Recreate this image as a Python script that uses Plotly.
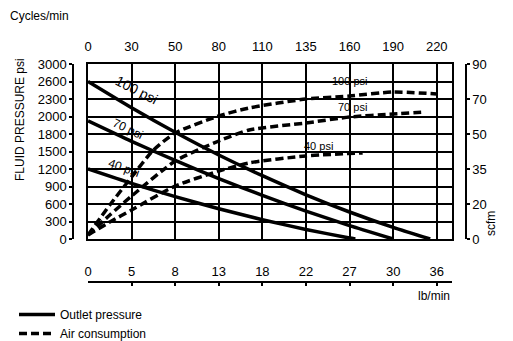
import numpy as np
import plotly.graph_objects as go

# ---- axis tick labels (evenly spaced on the chart) ----
lbmin_ticks = [0, 5, 8, 13, 18, 22, 27, 30, 36]
cycles_ticks = [0, 30, 50, 80, 110, 135, 160, 190, 220]
psi_ticks = [0, 300, 600, 900, 1200, 1500, 1800, 2000, 2300, 2600, 3000]
scfm_ticks = [0, 20, 35, 50, 70, 90]

# ---- Outlet pressure (psi) vs fluid flow (lb/min) ----
outlet_100_lbmin = [0, 5, 8, 13, 18, 22, 27, 30, 35.1]
outlet_100_psi = [2600, 2150, 1820, 1440, 1085, 758, 463, 199, 0]
outlet_70_lbmin = [0, 5, 8, 13, 18, 22, 27, 30]
outlet_70_psi = [1950, 1674, 1346, 1037, 748, 478, 229, 0]
outlet_40_lbmin = [0, 5, 8, 13, 18, 22, 27, 27.4]
outlet_40_psi = [1200, 953, 726, 519, 331, 164, 16, 0]

# ---- Air consumption (scfm) vs cycles/min ----
air_100_cpm = [0, 15, 30, 40, 50, 80, 101, 135, 160, 190, 220]
air_100_scfm = [2.3, 19.4, 31.6, 43.1, 50.6, 60.3, 64.9, 70, 71.7, 74, 72.9]
air_70_cpm = [0, 15, 30, 50, 80, 101, 135, 160, 190, 212]
air_70_scfm = [2.3, 13.7, 23.4, 38.4, 47, 52.3, 56.3, 59.7, 61.4, 62.6]
air_40_cpm = [0, 15, 30, 50, 80, 101, 135, 169]
air_40_scfm = [2.3, 9.7, 16.6, 27.7, 34.1, 37.6, 40.6, 41.9]

# the chart uses evenly spaced (non-linear) scales: map values to grid positions
def on_scale(vals, ticks, positions=None):
    if positions is None:
        positions = np.arange(len(ticks))
    return np.interp(vals, ticks, positions)

scfm_pos = [0, 2, 4, 6, 8, 10]

# page body has an 8px margin: figure sits at (8, 8) in the window
OFF = 8
W, H = 513 - OFF, 341 - OFF
ML, MR, MT, MB = 2, 2, 2, 2
PW, PH = W - ML - MR, H - MT - MB
def fx(p):  # window pixel x -> paper
    return (p - OFF - ML) / PW
def fy(p):  # window pixel y -> paper
    return (H - MB - (p - OFF)) / PH

FONT = "Liberation Sans, Arial, Helvetica, sans-serif"
LW = 3.5
DASH = "8px,4px"

fig = go.Figure()
for xs, ys in [(outlet_100_lbmin, outlet_100_psi), (outlet_70_lbmin, outlet_70_psi),
               (outlet_40_lbmin, outlet_40_psi)]:
    fig.add_trace(go.Scatter(x=on_scale(xs, lbmin_ticks), y=on_scale(ys, psi_ticks),
                             mode="lines", line=dict(color="black", width=LW, shape="spline", smoothing=0.6),
                             showlegend=False, hoverinfo="skip"))
for xs, ys in [(air_100_cpm, air_100_scfm), (air_70_cpm, air_70_scfm), (air_40_cpm, air_40_scfm)]:
    fig.add_trace(go.Scatter(x=on_scale(xs, cycles_ticks), y=on_scale(ys, scfm_ticks, scfm_pos),
                             mode="lines", line=dict(color="black", width=LW, dash=DASH, shape="spline", smoothing=0.6),
                             showlegend=False, hoverinfo="skip"))
# legend entries
fig.add_trace(go.Scatter(x=[None], y=[None], mode="lines", name="Outlet pressure",
                         line=dict(color="black", width=LW)))
fig.add_trace(go.Scatter(x=[None], y=[None], mode="lines", name="Air consumption",
                         line=dict(color="black", width=LW, dash=DASH)))

xdom = [fx(88), fx(452)]
ydom = [fy(239), fy(64)]
XR = [0, 8.35]
YR = [0, 10]
grid = dict(showgrid=True, gridcolor="black", gridwidth=1.5, showline=True, mirror=True,
            linecolor="black", linewidth=1.5, zeroline=False, showticklabels=False, ticks="",
            dtick=1, tick0=0, automargin=False)
TF = dict(size=13)

fig.update_layout(
    width=W, height=H,
    margin=dict(l=ML, r=MR, t=MT, b=MB, autoexpand=False),
    paper_bgcolor="white", plot_bgcolor="white",
    font=dict(family=FONT, size=12, color="black"),
    xaxis=dict(domain=xdom, range=XR, **grid),
    yaxis=dict(domain=ydom, range=YR, **grid),
    xaxis2=dict(overlaying="x", side="top", anchor="free", position=fy(54), range=XR,
                tickmode="array", tickvals=list(range(len(cycles_ticks))),
                ticktext=[str(v) for v in cycles_ticks], showline=False, showgrid=False,
                zeroline=False, ticks="", tickfont=TF, automargin=False),
    xaxis3=dict(overlaying="x", side="top", anchor="free", position=fy(281.7), range=XR,
                tickmode="array", tickvals=list(range(len(lbmin_ticks))),
                ticktext=[str(v) for v in lbmin_ticks], showline=True, linecolor="black",
                linewidth=2, showgrid=False, zeroline=False, ticks="inside", ticklen=3,
                tickwidth=2, tickcolor="black", tickfont=TF, automargin=False),
    yaxis2=dict(overlaying="y", side="left", anchor="free", position=fx(73), range=YR,
                tickmode="array", tickvals=list(range(len(psi_ticks))),
                ticktext=[str(v) for v in psi_ticks], showline=True, linecolor="black",
                linewidth=1.5, showgrid=False, zeroline=False, ticks="outside", ticklen=3,
                tickwidth=1.5, tickcolor="black", tickfont=TF, automargin=False),
    yaxis3=dict(overlaying="y", side="right", anchor="free", position=fx(466), range=YR,
                tickmode="array", tickvals=scfm_pos,
                ticktext=[str(v) for v in scfm_ticks], showline=True, linecolor="black",
                linewidth=1.5, showgrid=False, zeroline=False, ticks="outside", ticklen=3,
                tickwidth=1.5, tickcolor="black", tickfont=TF, automargin=False),
    showlegend=True,
    legend=dict(x=fx(14), y=fy(300), xanchor="left", yanchor="top", bgcolor="rgba(0,0,0,0)",
                font=dict(size=12), tracegroupgap=0, itemwidth=36),
)

# dummy traces on the extra axes so they are rendered
fig.add_trace(go.Scatter(x=[None], y=[None], xaxis="x2", yaxis="y2", showlegend=False))
fig.add_trace(go.Scatter(x=[None], y=[None], xaxis="x3", yaxis="y3", showlegend=False))

anns = [
    dict(text="Cycles/min", x=fx(8), y=fy(16), xanchor="left", yanchor="middle", size=12, angle=0),
    dict(text="FLUID PRESSURE psi", x=fx(20), y=fy(120), xanchor="center", yanchor="middle", size=12, angle=-90),
    dict(text="scfm", x=fx(491), y=fy(224), xanchor="center", yanchor="middle", size=12, angle=-90),
    dict(text="lb/min", x=fx(452), y=fy(296), xanchor="right", yanchor="middle", size=12, angle=0),
]
for a in anns:
    fig.add_annotation(text=a["text"], xref="paper", yref="paper", x=a["x"], y=a["y"],
                       xanchor=a["xanchor"], yanchor=a["yanchor"], showarrow=False,
                       textangle=a["angle"], font=dict(size=a["size"]))

# curve labels (positions in grid units)
labels = [
    ("100 psi", 1.12, 8.5, 27, 14),
    ("70 psi", 0.92, 6.3, 25, 12),
    ("40 psi", 0.83, 4.06, 20, 12),
    ("100 psi", 6.01, 9.03, 0, 11),
    ("70 psi", 6.06, 7.54, 0, 11),
    ("40 psi", 5.28, 5.31, 0, 11),
]
for t, x, y, ang, sz in labels:
    fig.add_annotation(text=t, x=x, y=y, xref="x", yref="y", showarrow=False,
                       textangle=ang, font=dict(size=sz))

fig.write_html("out.html")
